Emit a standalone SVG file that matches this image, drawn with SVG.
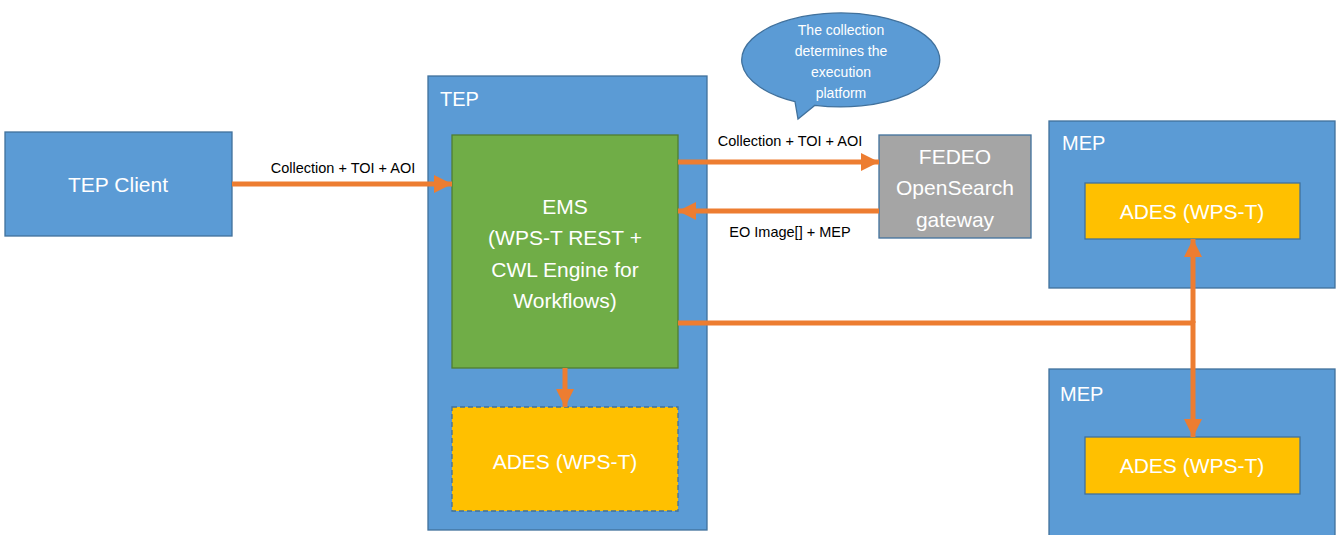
<svg xmlns="http://www.w3.org/2000/svg" width="1338" height="535" viewBox="0 0 1338 535">
<style>
.box{fill:#5B9BD5;stroke:#41719C;stroke-width:1.3}
.ems{fill:#70AD47;stroke:#507E32;stroke-width:1.3}
.ades{fill:#FFC000;stroke:#41719C;stroke-width:1.3}
.gray{fill:#A5A5A5;stroke:#41719C;stroke-width:1.3}
.t{font-family:"Liberation Sans",Arial,sans-serif;fill:#fff;font-size:21px;text-anchor:middle}
.tl{font-family:"Liberation Sans",Arial,sans-serif;fill:#fff;font-size:20px}
.lab{font-family:"Liberation Sans",Arial,sans-serif;fill:#000;font-size:14.5px;text-anchor:middle}
.sm{font-family:"Liberation Sans",Arial,sans-serif;fill:#fff;font-size:14px;text-anchor:middle}
.c{stroke:#ED7D31;stroke-width:5;fill:none}
</style>
<defs>
<marker id="ah" markerWidth="4" markerHeight="4" refX="3.6" refY="2" orient="auto" markerUnits="strokeWidth">
<path d="M0,0.2 L3.6,2 L0,3.8 Z" fill="#ED7D31"/>
</marker>
</defs>
<g id="tep-client"><rect class="box" x="5" y="132" width="227" height="104"/><text class="t" x="118" y="192">TEP Client</text></g>
<g id="tep"><rect class="box" x="428" y="76" width="279" height="454"/><text class="tl" x="440" y="106">TEP</text></g>
<g id="ems"><rect class="ems" x="452" y="135" width="226" height="233"/>
<text class="t" x="565" y="214">EMS</text><text class="t" x="565" y="245">(WPS-T REST +</text><text class="t" x="565" y="277">CWL Engine for</text><text class="t" x="565" y="308">Workflows)</text></g>
<g id="ades-tep"><rect class="ades" x="452" y="407" width="226" height="104" stroke-dasharray="5,3"/><text class="t" x="565" y="469">ADES (WPS-T)</text></g>
<g id="callout"><path class="box" d="M795,101.6 A99,47 0 1 1 815,105.3 L798,119 Z"/>
<text class="sm" x="841" y="35">The collection</text><text class="sm" x="841" y="56">determines the</text><text class="sm" x="841" y="77">execution</text><text class="sm" x="841" y="98">platform</text></g>
<g id="fedeo"><rect class="gray" x="879" y="135" width="152" height="103"/>
<text class="t" x="955" y="164">FEDEO</text><text class="t" x="955" y="195">OpenSearch</text><text class="t" x="955" y="227">gateway</text></g>
<g id="mep1"><rect class="box" x="1049" y="121" width="286" height="167"/><text class="tl" x="1062" y="150">MEP</text>
<rect class="ades" x="1085" y="183" width="215" height="56"/><text class="t" x="1192" y="219">ADES (WPS-T)</text></g>
<g id="mep2"><rect class="box" x="1049" y="369" width="286" height="170"/><text class="tl" x="1060" y="401">MEP</text>
<rect class="ades" x="1085" y="437" width="215" height="57"/><text class="t" x="1192" y="473">ADES (WPS-T)</text></g>
<g id="connectors">
<line class="c" x1="232" y1="184" x2="452" y2="184" marker-end="url(#ah)"/>
<text class="lab" x="343" y="173">Collection + TOI + AOI</text>
<line class="c" x1="678" y1="162" x2="879" y2="162" marker-end="url(#ah)"/>
<text class="lab" x="790" y="146">Collection + TOI + AOI</text>
<line class="c" x1="879" y1="211" x2="678" y2="211" marker-end="url(#ah)"/>
<text class="lab" x="790" y="237">EO Image[] + MEP</text>
<line class="c" x1="565" y1="368" x2="565" y2="407" marker-end="url(#ah)"/>
<polyline class="c" points="678,323 1193,323"/>
<line class="c" x1="1193" y1="323" x2="1193" y2="239" marker-end="url(#ah)"/>
<line class="c" x1="1193" y1="321" x2="1193" y2="437" marker-end="url(#ah)"/>
</g>
</svg>
